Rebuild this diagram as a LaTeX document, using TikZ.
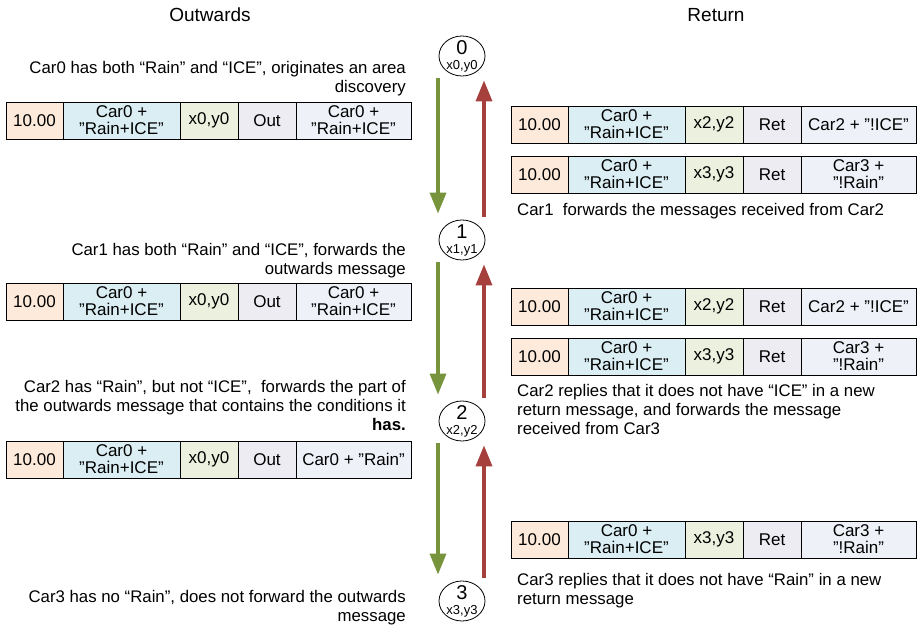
\documentclass[tikz,border=0pt]{standalone}
\usepackage{fontspec}
\setmainfont{Liberation Sans}
\usetikzlibrary{arrows.meta,shapes.geometric,calc}
\definecolor{cA}{HTML}{FDEADA}
\definecolor{cB}{HTML}{DAEEF3}
\definecolor{cC}{HTML}{EBF1DE}
\definecolor{cD}{HTML}{EEECF3}
\definecolor{cE}{HTML}{EEF2F8}
\definecolor{gArrow}{HTML}{77933C}
\definecolor{rArrow}{HTML}{A5403D}
\tikzset{
  cell/.style={draw=black, line width=0.8pt, minimum height=37pt, inner sep=0pt, outer sep=0pt,
    align=center, font=\fontsize{17}{17}\selectfont, anchor=north west},
  circ/.style={ellipse, draw=black, line width=0.8pt, minimum width=46pt, minimum height=40pt, inner sep=0pt},
  digitlbl/.style={inner sep=0pt, font=\fontsize{20}{20}\selectfont},
  poslbl/.style={inner sep=0pt, font=\fontsize{13}{13}\selectfont},
  desc/.style={inner sep=0pt, font=\fontsize{16.8}{19}\selectfont},
  ldesc/.style={desc, align=right, anchor=north east},
  rdesc/.style={desc, align=left, anchor=north west},
  titlelbl/.style={inner sep=0pt, font=\fontsize{19}{19}\selectfont, anchor=base},
  garrow/.style={draw=gArrow, line width=3.5pt, -{Triangle[length=21pt,width=16pt]}, shorten <=2pt, shorten >=6pt},
  rarrow/.style={draw=rArrow, line width=3.5pt, -{Triangle[length=21pt,width=16pt]}, shorten <=3pt, shorten >=4pt}
}
\newcommand\msgrow[5]{%
  \node[cell,fill=cA,minimum width=57pt] (#1a) at #2 {10.00};
  \node[cell,fill=cB,minimum width=117pt] (#1b) at (#1a.north east) {Car0 +\\"Rain+ICE"};
  \node[cell,fill=cC,minimum width=58pt] (#1c) at (#1b.north east) {#3};
  \node[cell,fill=cD,minimum width=58pt] (#1d) at (#1c.north east) {#4};
  \node[cell,fill=cE,minimum width=115pt] (#1e) at (#1d.north east) {#5};
}
\begin{document}
\begin{tikzpicture}[x=1pt,y=-1pt]
\useasboundingbox[fill=white] (0,0) rectangle (919,628);

% titles
\node[titlelbl] (tOut) at (210,22) {Outwards};
\node[titlelbl] (tRet) at (716,22) {Return};

% car circles
\node[circ] (c0) at (462,56) {};
\node[circ] (c1) at (462,240) {};
\node[circ] (c2) at (462,421) {};
\node[circ] (c3) at (462,601) {};
\foreach \i in {0,1,2,3}{
  \node[digitlbl] (c\i n) at ($(c\i.center)+(0,-8)$) {\i};
  \node[poslbl] (c\i p) at ($(c\i.center)+(0,10)$) {x\i,y\i};
}

% arrows
\draw[garrow] ([xshift=-24pt]c0.south) -- ([xshift=-24pt]c1.north);
\draw[garrow] ([xshift=-24pt]c1.south) -- ([xshift=-24pt]c2.north);
\draw[garrow] ([xshift=-24pt]c2.south) -- ([xshift=-24pt]c3.north);
\draw[rarrow] ([xshift=22pt]c1.north) -- ([xshift=22pt]c0.south);
\draw[rarrow] ([xshift=22pt]c2.north) -- ([xshift=22pt]c1.south);
\draw[rarrow] ([xshift=22pt]c3.north) -- ([xshift=22pt]c2.south);

% message rows
\msgrow{L1}{(6,102)}{x0,y0}{Out}{Car0 +\\"Rain+ICE"}
\msgrow{L2}{(6,283)}{x0,y0}{Out}{Car0 +\\"Rain+ICE"}
\msgrow{L3}{(6,441)}{x0,y0}{Out}{Car0 + "Rain"}
\msgrow{R1}{(511,106)}{x2,y2}{Ret}{Car2 + "!ICE"}
\msgrow{R2}{(511,156)}{x3,y3}{Ret}{Car3 +\\"!Rain"}
\msgrow{R3}{(511,288)}{x2,y2}{Ret}{Car2 + "!ICE"}
\msgrow{R4}{(511,338)}{x3,y3}{Ret}{Car3 +\\"!Rain"}
\msgrow{R5}{(511,521)}{x3,y3}{Ret}{Car3 +\\"!Rain"}

% descriptions
\node[ldesc] (d0) at (406,61) {Car0 has both “Rain” and “ICE”, originates an area\\discovery};
\node[ldesc] (d1) at (406,243) {Car1 has both “Rain” and “ICE”, forwards the\\outwards message};
\node[ldesc] (d2) at (406,380) {Car2 has “Rain”, but not “ICE”,\ \ forwards the part of\\the outwards message that contains the conditions it\\\textbf{has.}};
\node[ldesc] (d3) at (406,590) {Car3 has no “Rain”, does not forward the outwards\\message};
\node[rdesc] (r1) at (517,203) {Car1\ \ forwards the messages received from Car2};
\node[rdesc] (r2) at (517,384) {Car2 replies that it does not have “ICE” in a new\\return message, and forwards the message\\received from Car3};
\node[rdesc] (r3) at (517,573) {Car3 replies that it does not have “Rain” in a new\\return message};
\end{tikzpicture}
\end{document}
